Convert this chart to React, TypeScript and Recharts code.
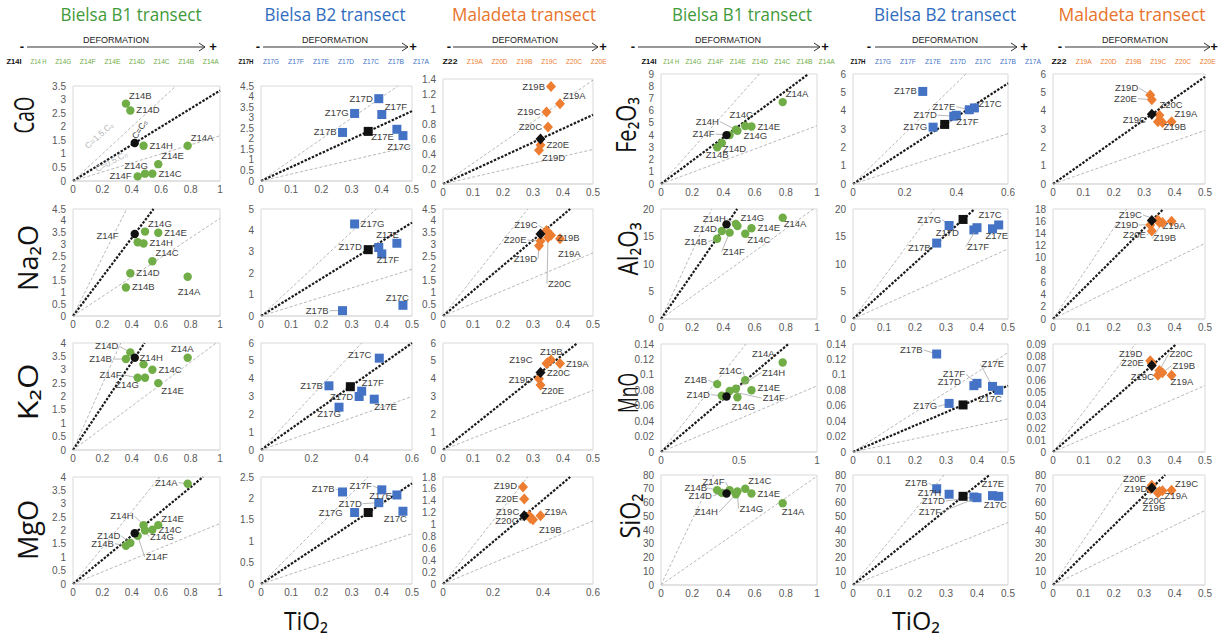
import React from "react";
import {
  ScatterChart,
  Scatter,
  XAxis,
  YAxis,
  ReferenceLine,
  ReferenceArea,
} from "recharts";

// oxide order used by every value array below
const OXIDES = ["CaO", "Na2O", "K2O", "MgO", "Fe2O3", "Al2O3", "MnO", "SiO2"];

// Bielsa B1 transect
const B1_SAMPLES = ["Z14A", "Z14B", "Z14C", "Z14D", "Z14E", "Z14F", "Z14G", "Z14H"];
const B1_TIO2 = [0.78, 0.36, 0.54, 0.39, 0.58, 0.44, 0.49, 0.48];
const B1_CAO = [1.3, 2.85, 0.27, 2.6, 0.62, 0.17, 0.27, 1.3];
const B1_NA2O = [1.65, 1.2, 2.3, 1.8, 3.5, 3.1, 3.55, 3.05];
const B1_K2O = [3.45, 3.4, 3.0, 3.65, 2.5, 2.7, 2.7, 3.2];
const B1_MGO = [3.75, 1.43, 2.03, 1.53, 2.2, 1.8, 2.0, 2.2];
const B1_FE2O3 = [6.7, 3.0, 4.75, 3.35, 4.7, 4.0, 4.35, 4.45];
const B1_AL2O3 = [18.4, 14.6, 15.5, 16.0, 16.5, 15.7, 16.9, 17.3];
const B1_MNO = [0.116, 0.088, 0.093, 0.073, 0.08, 0.079, 0.071, 0.082];
const B1_SIO2 = [59.5, 69, 70, 67, 66.5, 69, 68, 66];
const B1_REF_TIO2 = 0.42; // Z14I
const B1_REF = [1.4, 3.45, 3.45, 1.9, 4.0, 17.2, 0.072, 66.5];

// Bielsa B2 transect
const B2_SAMPLES = ["Z17B", "Z17C", "Z17D", "Z17E", "Z17F", "Z17G"];
const B2_TIO2 = [0.27, 0.47, 0.39, 0.45, 0.4, 0.31];
const B2_CAO = [2.3, 2.15, 3.9, 2.45, 3.15, 3.2];
const B2_NA2O = [0.25, 0.5, 3.2, 3.4, 2.9, 4.3];
const B2_K2O = [3.6, 5.15, 3.0, 2.85, 3.3, 2.4];
const B2_MGO = [2.15, 1.7, 1.9, 2.08, 2.2, 1.67];
const B2_FE2O3 = [5.05, 4.15, 3.7, 4.05, 3.75, 3.1];
const B2_AL2O3 = [13.8, 17.1, 16.2, 16.4, 16.6, 17.0];
const B2_MNO = [0.127, 0.08, 0.086, 0.085, 0.089, 0.063];
const B2_SIO2 = [70, 64.5, 64, 65, 63.5, 66];
const B2_REF_TIO2 = 0.355; // Z17H
const B2_REF = [2.35, 3.1, 3.55, 1.67, 3.25, 18.1, 0.061, 64.5];

// Maladeta transect
const MAL_SAMPLES = ["Z19A", "Z19B", "Z19C", "Z19D", "Z20C", "Z20E"];
const MAL_TIO2 = [0.39, 0.36, 0.345, 0.32, 0.35, 0.325];
const MAL_CAO = [1.07, 1.3, 0.96, 0.45, 0.76, 0.52];
const MAL_NA2O = [3.25, 3.4, 3.6, 2.95, 3.3, 3.15];
const MAL_K2O = [4.85, 5.05, 4.85, 4.0, 4.9, 3.65];
const MAL_MGO = [1.15, 1.08, 1.15, 1.63, 1.1, 1.43];
const MAL_FE2O3 = [3.4, 3.35, 3.4, 4.85, 3.75, 4.6];
const MAL_AL2O3 = [16.0, 15.8, 16.2, 15.4, 15.8, 14.4];
const MAL_MNO = [0.064, 0.066, 0.064, 0.076, 0.068, 0.074];
const MAL_SIO2 = [69, 68.5, 67, 70, 68, 72.5];
const MAL_REF_TIO2 = 0.325; // Z22
const MAL_REF = [0.6, 3.45, 4.35, 1.15, 3.8, 16.1, 0.072, 70.5];

// axes per oxide, per transect: [xMax, xStep, yMax, yStep]
const AXES = [
  [[1, 0.2, 3.5, 0.5], [0.5, 0.1, 4.5, 0.5], [0.5, 0.1, 1.4, 0.2]],
  [[1, 0.2, 4.5, 0.5], [0.5, 0.1, 5, 1], [0.5, 0.1, 4.5, 0.5]],
  [[1, 0.2, 4, 0.5], [0.6, 0.2, 6, 1], [0.5, 0.1, 6, 1]],
  [[1, 0.2, 4, 0.5], [0.5, 0.1, 2.5, 0.5], [0.6, 0.2, 1.8, 0.2]],
  [[1, 0.2, 9, 1], [0.6, 0.2, 6, 1], [0.5, 0.1, 6, 1]],
  [[1, 0.2, 20, 5], [0.5, 0.1, 20, 5], [0.5, 0.1, 18, 2]],
  [[1, 0.5, 0.14, 0.02], [0.5, 0.1, 0.14, 0.02], [0.5, 0.1, 0.09, 0.01]],
  [[1, 0.2, 80, 10], [0.5, 0.1, 80, 10], [0.5, 0.1, 80, 10]],
];

// header sequences
const SEQ_B1 = ["Z14I", "Z14 H", "Z14G", "Z14F", "Z14E", "Z14D", "Z14C", "Z14B", "Z14A"];
const SEQ_B2 = ["Z17H", "Z17G", "Z17F", "Z17E", "Z17D", "Z17C", "Z17B", "Z17A"];
const SEQ_MAL = ["Z22", "Z19A", "Z20D", "Z19B", "Z19C", "Z20C", "Z20E"];

// isocon annotations (CaO, B1 only)
const NOTE_X = [0.19, 0.47, 0.27];
const NOTE_Y = [1.6, 1.85, 0.62];
const NOTE_TEXT = ["C=1.5.C₀", "C=C₀", "C=0.5.C₀"];
const NOTE_STYLE = [
  { rot: -42, color: "#b5b5b5" },
  { rot: -58, color: "#333" },
  { rot: -28, color: "#b5b5b5" },
];

const TRANSECTS = [
  {
    id: "B1", names: B1_SAMPLES, tio2: B1_TIO2, refTio2: B1_REF_TIO2, ref: B1_REF,
    values: [B1_CAO, B1_NA2O, B1_K2O, B1_MGO, B1_FE2O3, B1_AL2O3, B1_MNO, B1_SIO2],
    color: "#70ad47", shape: "circle", title: "Bielsa B1 transect", titleColor: "#3f9a3a", seq: SEQ_B1,
  },
  {
    id: "B2", names: B2_SAMPLES, tio2: B2_TIO2, refTio2: B2_REF_TIO2, ref: B2_REF,
    values: [B2_CAO, B2_NA2O, B2_K2O, B2_MGO, B2_FE2O3, B2_AL2O3, B2_MNO, B2_SIO2],
    color: "#4472c4", shape: "square", title: "Bielsa B2 transect", titleColor: "#2f6cc0", seq: SEQ_B2,
  },
  {
    id: "Mal", names: MAL_SAMPLES, tio2: MAL_TIO2, refTio2: MAL_REF_TIO2, ref: MAL_REF,
    values: [MAL_CAO, MAL_NA2O, MAL_K2O, MAL_MGO, MAL_FE2O3, MAL_AL2O3, MAL_MNO, MAL_SIO2],
    color: "#ed7d31", shape: "diamond", title: "Maladeta transect", titleColor: "#e8732a", seq: SEQ_MAL,
  },
];

// ---- layout (pixels) ----
const COL_X = [[73, 220], [261, 412], [443, 593], [661, 817], [853, 1008], [1053, 1205]];
const ROW_Y_LEFT = [[86, 181], [209, 316], [343, 450], [477, 584]];
const ROW_Y_RIGHT = [[74, 184], [209, 319], [344, 452], [475, 585]];

const HEAD = [
  { t: 131, tw: 141, m: 22, a1: 27, a2: 205, p: 213, d: 116, s0: 14, ds: 24.6 },
  { t: 335, tw: 141, m: 258, a1: 263, a2: 408, p: 413, d: 335, s0: 246, ds: 25 },
  { t: 524, tw: 144, m: 449, a1: 453, a2: 598, p: 603, d: 525, s0: 450, ds: 24.8 },
  { t: 742, tw: 140, m: 633, a1: 638, a2: 820, p: 825, d: 728, s0: 649, ds: 22.2 },
  { t: 945, tw: 142, m: 869, a1: 875, a2: 1017, p: 1024, d: 945, s0: 858, ds: 25 },
  { t: 1132, tw: 147, m: 1060, a1: 1065, a2: 1210, p: 1214, d: 1135, s0: 1059, ds: 24.8 },
];

const ROW_LABELS = [
  { text: "CaO", x: 34, y: 115, len: 37 },
  { text: "Na₂O", x: 38, y: 258, len: 66 },
  { text: "K₂O", x: 38, y: 392, len: 57 },
  { text: "MgO", x: 38, y: 530, len: 60 },
  { text: "Fe₂O₃", x: 636, y: 125, len: 56 },
  { text: "Al₂O₃", x: 638, y: 249, len: 53 },
  { text: "MnO", x: 638, y: 393, len: 40 },
  { text: "SiO₂", x: 640, y: 516, len: 45 },
];

// label placement: code or [dx, dy, anchor, leader, textOverride]
type Place = string | [number, number, string, number, string?];
const PLACE: Record<string, [number, number, string, number]> = {
  r: [6, 3, "s", 0], l: [-6, 3, "e", 0], t: [0, -6, "m", 0], b: [0, 12, "m", 0],
  tr: [3, -5, "s", 0], tl: [-3, -5, "e", 0], br: [3, 11, "s", 0], bl: [-3, 11, "e", 0],
};

const LABEL_PLACES: Record<string, Record<string, Place>> = {
  "CaO|B1": { Z14B: "tr", Z14D: "r", Z14H: "r", Z14A: "tr", Z14E: "tr", Z14G: [3, -5, "e", 0], Z14C: "r", Z14F: "l" },
  "CaO|B2": { Z17D: "l", Z17G: "l", Z17F: "tr", Z17B: "l", Z17E: "bl", Z17C: [-4, 14, "m", 0] },
  "CaO|Mal": { Z19B: "l", Z19A: "tr", Z19C: "l", Z20C: "l", Z20E: "r", Z19D: "br" },
  "Fe2O3|B1": { Z14A: "tr", Z14C: [-4, -8, "m", 0], Z14E: "r", Z14H: [-17, -5, "e", 1], Z14F: [-15, 2, "e", 1], Z14G: [6, 8, "s", 0], Z14D: [1, 9, "s", 0], Z14B: [0, 11, "m", 0] },
  "Fe2O3|B2": { Z17B: "l", Z17E: [-14, 0, "e", 1], Z17C: [4, -1, "s", 0], Z17D: [-17, 2, "e", 1], Z17F: [0, 10, "s", 0], Z17G: "l" },
  "Fe2O3|Mal": { Z19D: [-12, -4, "e", 1], Z20E: [-15, 2, "e", 1], Z20C: [0, -7, "s", 0], Z19C: [-12, 1, "e", 0], Z19B: [1, 7, "s", 0], Z19A: [3, -5, "s", 0] },
  "Na2O|B1": { Z14G: "tr", Z14E: "r", Z14H: "r", Z14F: [-19, -3, "e", 0], Z14C: "tr", Z14D: "r", Z14B: "r", Z14A: [-10, 18, "s", 0] },
  "Na2O|B2": { Z17G: "r", Z17E: [2, -5, "e", 0], Z17D: [-17, 2, "e", 0], Z17F: [-5, 9, "s", 0], Z17B: [-14, 3, "e", 1], Z17C: [6, -4, "e", 0] },
  "Na2O|Mal": { Z19C: [-9, -2, "e", 1], Z19B: [6, 6, "s", 0], Z20E: [-14, 2, "e", 1], Z19A: [-2, 18, "s", 0], Z19D: [-2, 16, "e", 1], Z20C: [0, 49, "s", 1] },
  "Al2O3|B1": { Z14A: [1, 9, "s", 0], Z14G: "tr", Z14H: [-10, -2, "e", 1], Z14E: "r", Z14D: [-5, 1, "e", 1], Z14C: [2, 9, "s", 0], Z14B: [-10, 6, "e", 1], Z14F: [-7, 22, "s", 1] },
  "Al2O3|B2": { Z17G: [-8, -3, "e", 1], Z17D: [-15, 6, "e", 0], Z17F: [-10, 22, "s", 1], Z17C: [3, -7, "e", 0], Z17E: [-7, 10, "s", 0], Z17B: [-6, 8, "e", 1] },
  "Al2O3|Mal": { Z19C: [-16, -2, "e", 1], Z19D: [-12, 3, "e", 1], Z20E: [-6, 7, "e", 1], Z19A: [-9, 8, "s", 0], Z19B: [-9, 19, "s", 1], Z20C: "none" },
  "K2O|B1": { Z14D: [-12, -3, "e", 1], Z14H: [-4, -3, "s", 0], Z14B: [-14, 3, "e", 1], Z14C: "r", Z14F: [-16, 0, "e", 1], Z14G: [-6, 10, "e", 0], Z14E: "br", Z14A: [6, -6, "e", 0] },
  "K2O|B2": { Z17C: [-8, 0, "e", 0], Z17B: "l", Z17F: [0, -5, "s", 0], Z17D: "l", Z17E: [0, 11, "s", 0], Z17G: [-10, 10, "m", 0] },
  "K2O|Mal": { Z19B: [-11, -5, "s", 0], Z19C: [-14, -1, "e", 0], Z19A: "r", Z20C: [-1, 13, "s", 0], Z19D: [-7, 4, "e", 0], Z20E: [1, 9, "s", 0] },
  "MnO|B1": { Z14A: [-8, -6, "e", 0], Z14C: [-3, -6, "e", 1], Z14H: [26, -13, "s", 1], Z14B: [-10, -1, "e", 1], Z14E: [6, 1, "s", 0], Z14D: [-12, 2, "e", 1], Z14F: [33, 10, "s", 1], Z14G: [-6, 13, "s", 0] },
  "MnO|B2": { Z17B: [-14, -1, "e", 1], Z17E: [-11, -19, "s", 1], Z17F: [-12, -6, "e", 1], Z17D: [-13, -1, "e", 0], Z17C: [-20, 12, "s", 0], Z17G: [-12, 6, "e", 1] },
  "MnO|Mal": { Z19D: [-8, -4, "e", 0], Z20E: [-8, 3, "e", 0], Z20C: [10, -13, "s", 1], Z19B: [10, -4, "s", 1], Z19C: [-4, 5, "e", 1], Z19A: [-1, 10, "s", 0] },
  "MgO|B1": { Z14A: [-10, 2, "e", 1], Z14H: [-10, -6, "e", 1], Z14E: [3, -3, "s", 0], Z14C: "r", Z14G: [5, 9, "s", 1], Z14D: [-10, -4, "e", 1], Z14B: [-12, 1, "e", 1], Z14F: [8, 24, "s", 1] },
  "MgO|B2": { Z17B: [-8, 0, "e", 1], Z17F: [-10, -1, "e", 1], Z17E: [-5, 4, "e", 0], Z17D: [-17, 4, "e", 1], Z17G: [-12, 3, "e", 0], Z17C: [4, 11, "e", 0] },
  "MgO|Mal": { Z19D: [-6, 2, "e", 1], Z20E: [-6, 3, "e", 1], Z19C: [-10, -1, "e", 0], Z20C: [-12, 5, "e", 1], Z19A: [4, -1, "s", 0], Z19B: [6, 13, "s", 0] },
  "SiO2|B1": { Z14F: [-5, -5, "e", 1], Z14C: "tr", Z14B: [-10, 1, "e", 1], Z14E: "r", Z14D: [-10, 6, "e", 1], Z14G: [2, 20, "s", 1], Z14H: [-18, 21, "e", 1], Z14A: [-1, 12, "s", 0] },
  "SiO2|B2": { Z17B: [-9, -3, "e", 1], Z17G: [-8, 2, "e", 0, "Z17H"], Z17E: [-11, -9, "s", 0], Z17C: [-15, 12, "s", 0], Z17D: [-29, 7, "e", 1], Z17F: [-36, 17, "e", 1] },
  "SiO2|Mal": { Z20E: [-6, -3, "e", 0], Z19D: [-3, 3, "e", 0], Z19C: [17, -6, "s", 0], Z19A: [-7, 9, "s", 0], Z20C: [-17, 12, "s", 0], Z19B: [-20, 20, "s", 0] },
};

const FONT = "'Liberation Sans', Arial, sans-serif";
const TICK = { fontSize: 10, fill: "#595959", fontFamily: FONT };
const GRID = "#d9d9d9";

const ticksOf = (max: number, step: number) =>
  Array.from({ length: Math.round(max / step) + 1 }, (_, i) => +(i * step).toFixed(4));
const fmt = (v: number) => String(Math.round(v * 1000) / 1000);

function Marker({ cx, cy, shape, color }: any) {
  if (shape === "square")
    return <rect x={cx - 4.5} y={cy - 4.5} width={9} height={9} fill={color} />;
  if (shape === "diamond")
    return (
      <polygon
        points={`${cx},${cy - 5.5} ${cx + 5},${cy} ${cx},${cy + 5.5} ${cx - 5},${cy}`}
        fill={color}
      />
    );
  return <circle cx={cx} cy={cy} r={4.2} fill={color} />;
}

function SampleShape(props: any) {
  const { cx, cy, payload, shape, color, places } = props;
  if (cx == null || cy == null) return null;
  const pl: Place = places[payload.name] ?? "r";
  if (pl === "none") return <Marker cx={cx} cy={cy} shape={shape} color={color} />;
  const [dx, dy, anchor, leader, txt] = typeof pl === "string" ? PLACE[pl] : pl;
  const tx = cx + dx;
  const ty = cy + dy;
  const ta = anchor === "s" ? "start" : anchor === "e" ? "end" : "middle";
  const lx = anchor === "s" ? tx - 1 : anchor === "e" ? tx + 1 : tx;
  return (
    <g>
      {leader ? (
        <line x1={cx} y1={cy} x2={lx} y2={ty - 3} stroke="#a6a6a6" strokeWidth={0.8} />
      ) : null}
      <Marker cx={cx} cy={cy} shape={shape} color={color} />
      <text x={tx} y={ty} textAnchor={ta} fontSize={9.5} fill="#404040" fontFamily={FONT}>
        {txt ?? payload.name}
      </text>
    </g>
  );
}

function NoteShape(props: any) {
  const { cx, cy, payload } = props;
  const st = NOTE_STYLE[payload.i];
  return (
    <text
      transform={`translate(${cx},${cy}) rotate(${st.rot})`}
      textAnchor="middle"
      fontSize={8.5}
      fill={st.color}
      fontFamily={FONT}
    >
      {payload.text}
    </text>
  );
}

function Panel({ o, t }: { o: number; t: number }) {
  const tr = TRANSECTS[t];
  const half = o < 4 ? 0 : 1;
  const row = o % 4;
  const col = half * 3 + t;
  const [x0, x1] = COL_X[col];
  let [top, bottom] = (half ? ROW_Y_RIGHT : ROW_Y_LEFT)[row];
  if (col === 2 && row === 0) [top, bottom] = [79, 184];
  const [xMax, xStep, yMax, yStep] = AXES[o][t];
  const vals = tr.values[o];
  const refY = tr.ref[o];
  const data = tr.names.map((name, i) => ({ name, x: tr.tio2[i], y: vals[i] }));
  const refData = [{ name: "ref", x: tr.refTio2, y: refY }];
  const slope = refY / tr.refTio2;
  const seg = (k: number) => {
    const m = slope * k;
    const xe = Math.min(xMax, yMax / m);
    return [{ x: 0, y: 0 }, { x: xe, y: m * xe }];
  };
  const places = LABEL_PLACES[`${OXIDES[o]}|${tr.id}`] || {};
  const notes =
    o === 0 && t === 0
      ? NOTE_TEXT.map((text, i) => ({ i, text, x: NOTE_X[i], y: NOTE_Y[i] }))
      : [];
  const YW = 30, MT = 6, MR = 8, XH = 18;
  return (
    <div style={{ position: "absolute", left: x0 - YW, top: top - MT }}>
      <ScatterChart
        width={x1 - x0 + YW + MR}
        height={bottom - top + MT + XH}
        margin={{ top: MT, right: MR, bottom: 0, left: 0 }}
      >
        <XAxis
          type="number"
          dataKey="x"
          domain={[0, xMax]}
          ticks={ticksOf(xMax, xStep)}
          tickFormatter={fmt}
          tick={TICK}
          tickLine={false}
          tickSize={0}
          tickMargin={5}
          axisLine={{ stroke: GRID }}
          height={XH}
          interval={0}
        />
        <YAxis
          type="number"
          dataKey="y"
          domain={[0, yMax]}
          ticks={ticksOf(yMax, yStep)}
          tickFormatter={fmt}
          tick={TICK}
          tickLine={false}
          tickSize={0}
          tickMargin={7}
          axisLine={false}
          width={YW}
          interval={0}
        />
        <ReferenceArea x1={0} x2={xMax} y1={0} y2={yMax} fill="none" fillOpacity={0} stroke={GRID} />
        <ReferenceLine segment={seg(1.5)} stroke="#a6a6a6" strokeDasharray="3 2" strokeWidth={0.8} />
        <ReferenceLine segment={seg(0.5)} stroke="#a6a6a6" strokeDasharray="3 2" strokeWidth={0.8} />
        <ReferenceLine segment={seg(1)} stroke="#1a1a1a" strokeDasharray="2.5 1.5" strokeWidth={2.2} />
        {notes.length > 0 && (
          <Scatter data={notes} isAnimationActive={false} shape={(p: any) => <NoteShape {...p} />} />
        )}
        <Scatter
          data={data}
          isAnimationActive={false}
          shape={(p: any) => (
            <SampleShape {...p} shape={tr.shape} color={tr.color} places={places} />
          )}
        />
        <Scatter
          data={refData}
          isAnimationActive={false}
          shape={(p: any) => <Marker cx={p.cx} cy={p.cy} shape={tr.shape} color="#111" />}
        />
      </ScatterChart>
    </div>
  );
}

function Header() {
  return (
    <svg width={1222} height={637} style={{ position: "absolute", left: 0, top: 0 }}>
      {HEAD.map((h, c) => {
        const tr = TRANSECTS[c % 3];
        return (
          <g key={c}>
            <text x={h.t} y={21} textAnchor="middle" fontSize={17.5} fill={tr.titleColor}
              fontFamily="'Open Sans', sans-serif" textLength={h.tw} lengthAdjust="spacingAndGlyphs">
              {tr.title}
            </text>
            <text x={h.d} y={43} textAnchor="middle" fontSize={8.5} fill="#222" fontFamily={FONT}
              textLength={66} lengthAdjust="spacingAndGlyphs">
              DEFORMATION
            </text>
            <text x={h.m} y={51} textAnchor="middle" fontSize={13} fontWeight="bold" fill="#111" fontFamily={FONT}>-</text>
            <line x1={h.a1} y1={47} x2={h.a2} y2={47} stroke="#333" strokeWidth={1} />
            <polyline points={`${h.a2 - 6},${43} ${h.a2},${47} ${h.a2 - 6},${51}`} fill="none" stroke="#333" strokeWidth={1} />
            <text x={h.p} y={51} textAnchor="middle" fontSize={13} fontWeight="bold" fill="#111" fontFamily={FONT}>+</text>
            {tr.seq.map((s, i) => (
              <text key={s} x={h.s0 + i * h.ds} y={64} textAnchor="middle" fontSize={8}
                fontWeight={i === 0 ? "bold" : "normal"} fill={i === 0 ? "#111" : tr.color}
                fontFamily={FONT} textLength={i === 0 ? 15 : 16} lengthAdjust="spacingAndGlyphs">
                {s}
              </text>
            ))}
          </g>
        );
      })}
      {ROW_LABELS.map((r) => (
        <text key={r.text} transform={`translate(${r.x},${r.y}) rotate(-90)`} textAnchor="middle"
          fontSize={27} fill="#111" fontFamily="'Open Sans', sans-serif" textLength={r.len}
          lengthAdjust="spacingAndGlyphs">
          {r.text}
        </text>
      ))}
      <text x={306} y={630} textAnchor="middle" fontSize={25} fill="#111" fontFamily="'Open Sans', sans-serif"
        textLength={44} lengthAdjust="spacingAndGlyphs">TiO₂</text>
      <text x={916} y={630} textAnchor="middle" fontSize={25} fill="#111" fontFamily="'Open Sans', sans-serif"
        textLength={48} lengthAdjust="spacingAndGlyphs">TiO₂</text>
    </svg>
  );
}

export default function App() {
  return (
    <div style={{ position: "absolute", left: 0, top: 0, width: 1222, height: 637, background: "#fff", overflow: "hidden" }}>
      <Header />
      {OXIDES.map((_, o) =>
        TRANSECTS.map((__, t) => <Panel key={`${o}-${t}`} o={o} t={t} />)
      )}
    </div>
  );
}
